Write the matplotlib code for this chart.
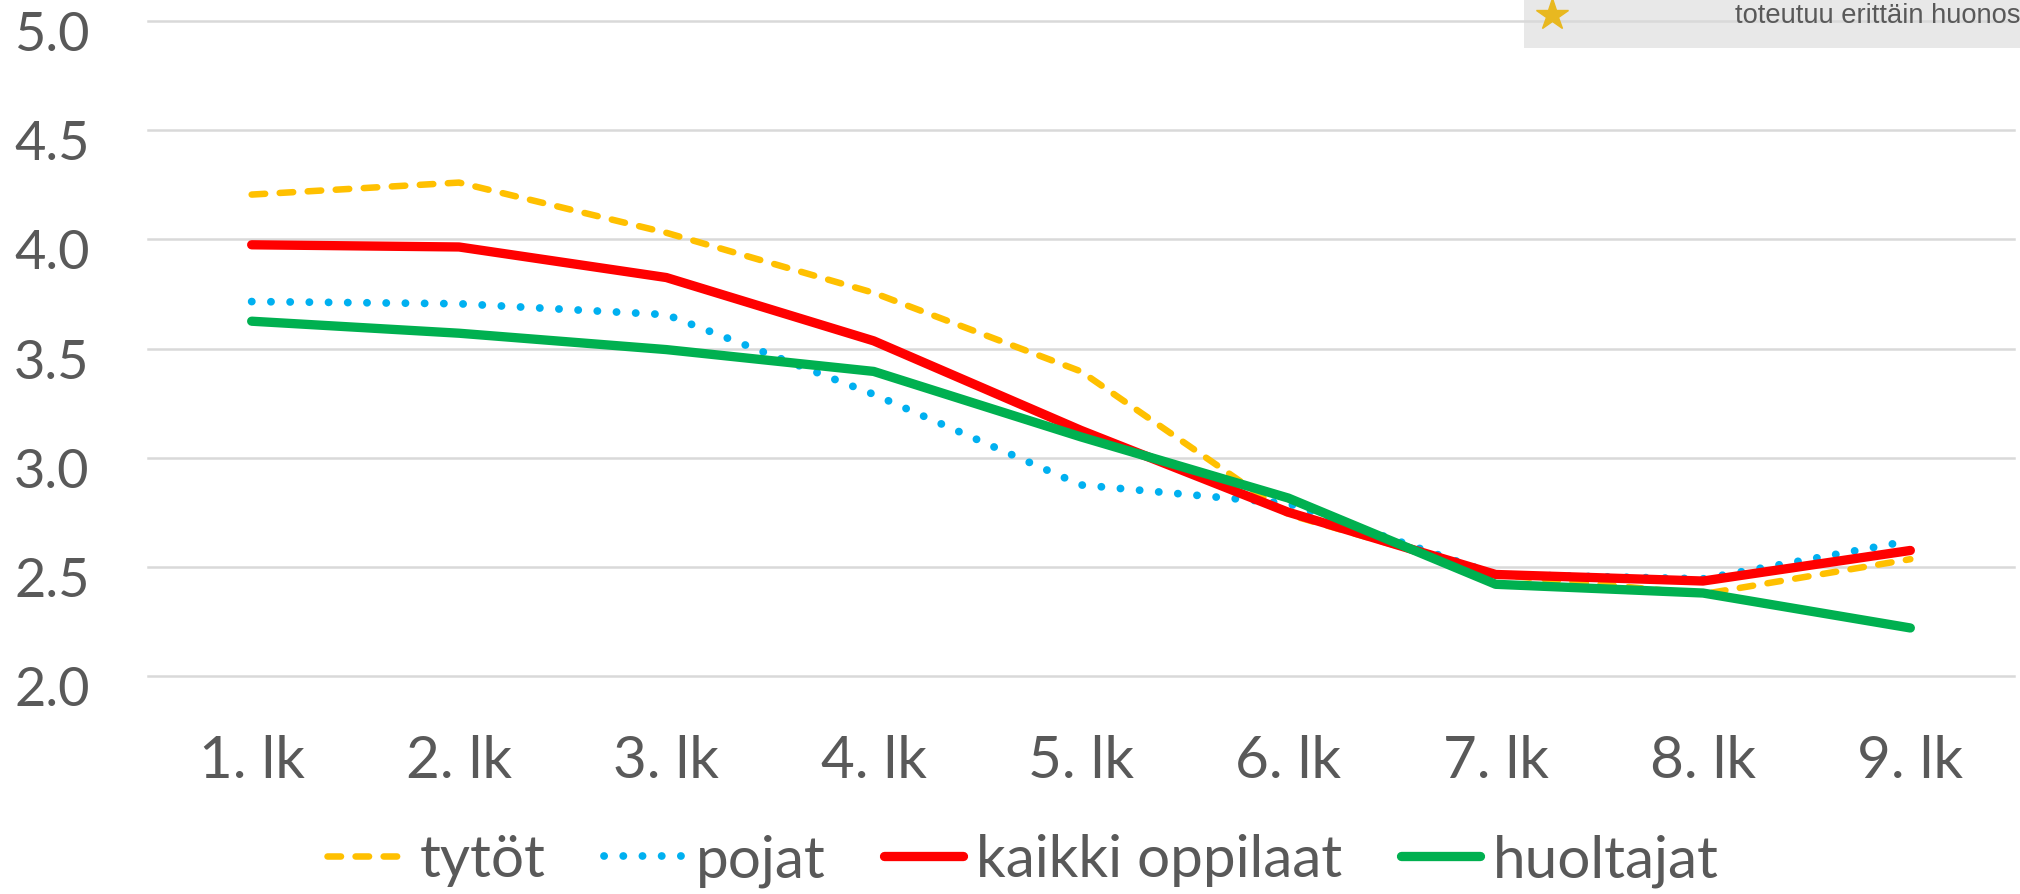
import matplotlib
matplotlib.use("Agg")
import matplotlib.pyplot as plt
from matplotlib.lines import Line2D
from matplotlib.patches import Rectangle
from matplotlib.transforms import ScaledTranslation

W, H = 2020, 895

grades = ["1. lk", "2. lk", "3. lk", "4. lk", "5. lk", "6. lk", "7. lk", "8. lk", "9. lk"]
tytot = [4.205, 4.26, 4.03, 3.755, 3.395, 2.74, 2.465, 2.375, 2.535]
pojat = [3.715, 3.705, 3.655, 3.29, 2.875, 2.79, 2.465, 2.445, 2.62]
kaikki = [3.975, 3.965, 3.825, 3.535, 3.125, 2.75, 2.465, 2.435, 2.575]
huoltajat = [3.625, 3.57, 3.495, 3.395, 3.095, 2.815, 2.42, 2.38, 2.22]
y_ticks = [2.0, 2.5, 3.0, 3.5, 4.0, 4.5, 5.0]
overlay_text = "toteutuu erittäin huonos"

plt.rcParams['font.family'] = ['Lato', 'DejaVu Sans']
grey = "#595959"

fig = plt.figure(figsize=(W / 100, H / 100), dpi=100)
ax = fig.add_axes([148 / W, 1 - 677 / H, (2014 - 148) / W, (677 - 22) / H])
ax.patch.set_alpha(0)

x = list(range(len(grades)))
ax.plot(x, tytot, color="#FFC000", lw=4.7, dash_capstyle="round", dashes=(2.07, 2.23), label="tytöt")
ax.plot(x, pojat, color="#00B0F0", lw=5.6, dash_capstyle="round", dashes=(0.02, 2.45), label="pojat")
ax.plot(x, kaikki, color="#FF0000", lw=6.7, solid_capstyle="round", label="kaikki oppilaat")
ax.plot(x, huoltajat, color="#00B050", lw=6.7, solid_capstyle="round", label="huoltajat")

ax.set_xlim(-0.5, len(grades) - 0.5)
ax.set_ylim(2, 5)
ax.set_xticks(x, grades)
ax.set_yticks(y_ticks, [f"{v:.1f}" for v in y_ticks])
ax.tick_params(axis="both", length=0, labelcolor=grey)
ax.tick_params(axis="x", pad=42, labelsize=42)
ax.tick_params(axis="y", pad=42, labelsize=39)
ax.grid(axis="y", color="#D9D9D9", lw=1.8)
ax.set_axisbelow(True)
for g in ax.get_ygridlines():
    g.set_clip_on(False)
for s in ax.spines.values():
    s.set_visible(False)

# old style figures in the original sit lower than the gridlines
shift = ScaledTranslation(0, -6.5 / 72, fig.dpi_scale_trans)
for lab in ax.get_yticklabels():
    lab.set_transform(lab.get_transform() + shift)

ax.legend(loc="center", bbox_to_anchor=(1023 / W, 1 - 861 / H), bbox_transform=fig.transFigure,
          ncol=4, frameon=False, fontsize=42, labelcolor=grey, handlelength=1.36,
          handletextpad=0.22, columnspacing=1.0, borderpad=0, borderaxespad=0)

# screenshot leftover in the top right corner
fig.add_artist(Rectangle((1524 / W, 1 - 49 / H), (W - 1524) / W, 49 / H, transform=fig.transFigure,
                         facecolor="#E8E8E8", edgecolor="none", zorder=-1))
fig.add_artist(Line2D([1552 / W], [1 - 16 / H], transform=fig.transFigure, marker="*", ms=24,
                      color="#E8B820", zorder=5))
fig.text(1735 / W, 1 - 16 / H, overlay_text, fontsize=19.7, color=grey, va="center", ha="left",
         family=["Liberation Sans"])

fig.savefig("out.png", dpi=100)
